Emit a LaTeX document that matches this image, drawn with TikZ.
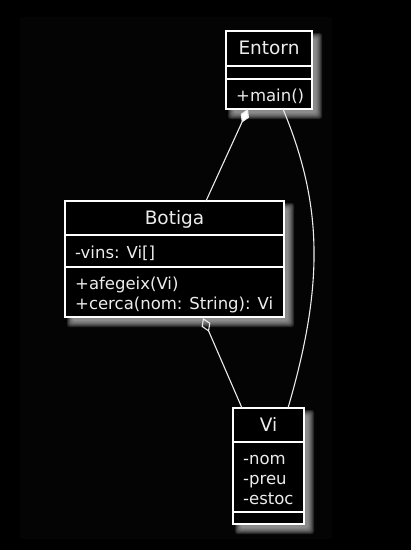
\documentclass[tikz,border=0pt]{standalone}
\usepackage{fontspec}
\usetikzlibrary{arrows.meta}
\newfontfamily\umlfam{DejaVu Sans}
\newcommand\umlbody{\umlfam\fontsize{16.5}{20}\selectfont}
\newcommand\umltitle{\umlfam\fontsize{18.5}{22}\selectfont}
\definecolor{innerbg}{RGB}{4,4,4}
\definecolor{shadowgray}{RGB}{185,185,185}
\definecolor{umltext}{RGB}{236,236,236}
\tikzset{
  umlbox/.style={draw=white, line width=1.8pt, fill=black, anchor=north west, inner sep=0pt, outer sep=0pt},
  umlsep/.style={draw=white, line width=1.8pt},
  umltxt/.style={text=umltext, inner sep=0pt, anchor=west, text height=12pt, text depth=0pt, font=\umlbody},
  umlttl/.style={text=umltext, inner sep=0pt, text height=13.5pt, text depth=0pt, font=\umltitle},
  conn/.style={draw=white!92!black, line width=1.1pt},
  shadowlayer/.style={fill=shadowgray, opacity=0.18, draw=none},
}
\newcommand\umlshadow[4]{%
  \foreach \r in {4,3,2,1,0,-1,-2}{%
    \fill[shadowlayer, rounded corners=2.5pt] (#1+6-\r,#2+6-\r) rectangle (#3+6+\r,#4+6+\r);
  }%
}
\begin{document}
\begin{tikzpicture}[x=1pt,y=-1pt]
\useasboundingbox (0,0) rectangle (411,550);
\fill[black] (0,0) rectangle (411,550);
\fill[innerbg] (20,17) rectangle (332,539);

% shadows
\umlshadow{226}{31}{312}{109}
\umlshadow{65}{201}{284}{317}
\umlshadow{233}{408}{304}{524}

% Entorn
\node[umlbox, minimum width=86pt, minimum height=78pt] (entorn) at (226,31) {};
\draw[umlsep] (226,66) -- (312,66);
\draw[umlsep] (226,79) -- (312,79);
\node[umlttl] (entornT) at (269,48) {Entorn};
\node[umltxt] (entornM) at (236,95) {+main()};

% Botiga
\node[umlbox, minimum width=219pt, minimum height=116pt] (botiga) at (65,201) {};
\draw[umlsep] (65,235) -- (284,235);
\draw[umlsep] (65,267) -- (284,267);
\node[umlttl] (botigaT) at (174.5,218) {Botiga};
\node[umltxt] (botigaA) at (75,252) {-vins: Vi[]};
\node[umltxt] (botigaM1) at (75,283) {+afegeix(Vi)};
\node[umltxt] (botigaM2) at (75,303) {+cerca(nom: String): Vi};

% Vi
\node[umlbox, minimum width=71pt, minimum height=116pt] (vi) at (233,408) {};
\draw[umlsep] (233,442) -- (304,442);
\draw[umlsep] (233,512) -- (304,512);
\node[umlttl] (viT) at (268.5,425) {Vi};
\node[umltxt] (viA1) at (243,458) {-nom};
\node[umltxt] (viA2) at (243,478) {-preu};
\node[umltxt] (viA3) at (243,498) {-estoc};

% connector end points
\coordinate (eB) at (248,109);
\coordinate (bT) at (206,201);
\coordinate (bB) at (203,318);
\coordinate (vT1) at (242,408);
\coordinate (eR) at (283,109);
\coordinate (vT2) at (288,408);

\draw[conn, {Diamond[length=15pt,width=9pt,fill=white]}-] (eB) -- (bT);
\draw[conn, {Diamond[open,length=15pt,width=9.5pt]}-] (bB) -- (vT1);
\draw[conn] (eR) .. controls (323,205) and (324,285) .. (vT2);
\end{tikzpicture}
\end{document}
